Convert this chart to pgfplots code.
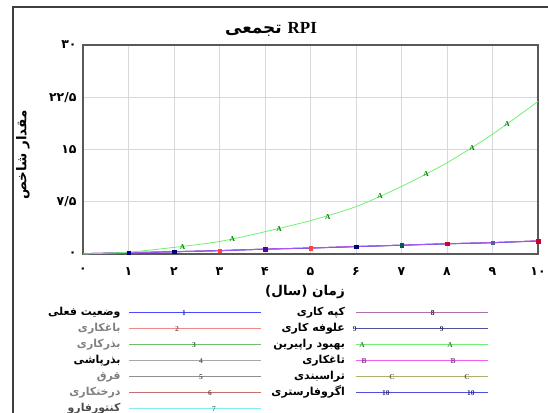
\documentclass[border=0pt]{standalone}
\usepackage{fontspec}
\usepackage{pgfplots}
\pgfplotsset{compat=1.18}
\setmainfont{Liberation Serif}
\newfontfamily\arabicfont[Script=Arabic]{DejaVu Sans}
\newfontfamily\latinfont{Liberation Serif}
\TeXXeTstate=1
\definecolor{c1}{HTML}{4A4AFF}
\definecolor{c2}{HTML}{F08A8A}
\definecolor{c3}{HTML}{6CBF6C}
\definecolor{c4}{HTML}{A8A8A8}
\definecolor{c5}{HTML}{909090}
\definecolor{c6}{HTML}{C87070}
\definecolor{c7}{HTML}{80EEEE}
\definecolor{c8}{HTML}{B070B0}
\definecolor{c9}{HTML}{5050A0}
\definecolor{cA}{HTML}{70F070}
\definecolor{cB}{HTML}{F060F0}
\definecolor{cC}{HTML}{B0B070}
\definecolor{cD}{HTML}{5050E0}
\pgfplotsset{
  legL/.style n args={3}{legend image code/.code={
     \draw[color=#1, line width=0.9bp] (0bp,0bp) -- (132bp,0bp);
     \node[inner sep=0pt, text=#1!55!black, font=\fontsize{7.5}{7.5}\selectfont\bfseries] at (#2,0bp) {#3};}},
  legR/.style n args={4}{legend image code/.code={
     \draw[color=#1, line width=0.9bp] (0bp,0bp) -- (132bp,0bp);
     \node[inner sep=0pt, text=#1!55!black, font=\fontsize{7.5}{7.5}\selectfont\bfseries] at (#2,0bp) {#4};
     \node[inner sep=0pt, text=#1!55!black, font=\fontsize{7.5}{7.5}\selectfont\bfseries] at (#3,0bp) {#4};}},
}
\newcommand{\fa}[1]{\beginR #1\endR}
\begin{document}
\begin{tikzpicture}[x=1bp,y=1bp]
\useasboundingbox (0,0) rectangle (548,412);
\draw[line width=1.5bp, color=black!75] (13,-5) -- (13,405) -- (560,405);
\begin{axis}[
  at={(83bp,158bp)}, anchor=south west, scale only axis,
  width=455bp, height=209bp,
  xmin=0, xmax=10, ymin=0, ymax=30,
  xtick={0,1,2,3,4,5,6,7,8,9,10},
  xticklabels={۰,۱,۲,۳,۴,۵,۶,۷,۸,۹,۱۰},
  ytick={0,7.5,15,22.5,30},
  yticklabels={۰,۷/۵,۱۵,۲۲/۵,۳۰},
  grid=major, major grid style={black!15, line width=0.7bp},
  axis line style={black!65, line width=1.2bp},
  major tick length=0pt,
  ticklabel style={font=\arabicfont\bfseries\fontsize{12.5}{12.5}\selectfont},
  xticklabel style={yshift=-10bp},
  yticklabel style={xshift=-3bp},
  legend columns=2,
  legend plot pos=right,
  legend cell align=right,
  legend style={draw=none, fill=none, at={(-0.088,-0.239)}, anchor=north west,
    font=\arabicfont\bfseries\fontsize{11}{11}\selectfont,
    row sep=3bp,
    nodes={inner sep=2bp, text height=7bp, text depth=2bp},
    /tikz/every odd column/.append style={column sep=6bp},
    /tikz/every even column/.append style={column sep=8bp}},
]
% bottom group of series
\addplot[color=c2, line width=0.9bp, forget plot] coordinates {(0,0.05)(1,0.18)(2,0.33)(3,0.48)(4,0.7)(5,0.86)(6,1.07)(7,1.27)(8,1.47)(9,1.63)(10,1.88)};
\addplot[color=c9, line width=0.9bp, forget plot] coordinates {(0,0.05)(1,0.18)(2,0.33)(3,0.48)(4,0.7)(5,0.86)(6,1.07)(7,1.27)(8,1.47)(9,1.63)(10,1.88)};
\addplot[color=c1, line width=1bp, forget plot] coordinates {(0,0.05)(1,0.18)(2,0.33)(3,0.48)(4,0.7)(5,0.85)(6,1.06)(7,1.26)(8,1.46)(9,1.62)(10,1.87)};
\addplot[color=cB, line width=1bp, opacity=0.55, forget plot] coordinates {(0,0.05)(1,0.18)(2,0.33)(3,0.48)(4,0.72)(5,0.88)(6,1.09)(7,1.29)(8,1.49)(9,1.65)(10,1.9)};
% green series
\addplot[color=cA, line width=0.8bp, smooth, forget plot] coordinates {(0,0)(1,0.27)(2,0.95)(3,1.8)(4,3.2)(5,4.8)(6,6.8)(7,9.7)(8,13.1)(9,17.2)(10,21.9)};
\addplot[only marks, color=green!50!black, mark=text, text mark={A}, text mark as node,
  text mark style={font=\fontsize{7.5}{7.5}\selectfont\bfseries}, forget plot]
  coordinates {(2.19,1.05)(3.28,2.15)(4.31,3.6)(5.38,5.3)(6.53,8.3)(7.54,11.5)(8.55,15.2)(9.32,18.7)};
% markers on bottom line
\addplot[only marks, mark=square*, mark size=1.8bp, color=blue!50!black, forget plot] coordinates {(1,0.18)(2,0.33)(6,1.07)};
\addplot[only marks, mark=square*, mark size=1.8bp, color=red!75!white, forget plot] coordinates {(3,0.48)(5,0.86)};
\addplot[only marks, mark=square*, mark size=1.8bp, color=violet!70!blue, forget plot] coordinates {(4,0.7)};
\addplot[only marks, mark=square*, mark size=1.8bp, color=teal!70!black, forget plot] coordinates {(7,1.27)};
\addplot[only marks, mark=square*, mark size=1.8bp, color=purple!80!red, forget plot] coordinates {(8,1.47)(10,1.88)};
\addplot[only marks, mark=square*, mark size=1.8bp, color=blue!30!gray, forget plot] coordinates {(9,1.63)};
% legend
\addlegendimage{legL={c1}{57bp}{1}}
\addlegendentry{\fa{وضعیت فعلی}}
\addlegendimage{legR={c8}{79bp}{79bp}{8}}
\addlegendentry{\fa{کپه کاری}}
\addlegendimage{legL={c2}{50bp}{2}}
\addlegendentry{{\color{black!50}\fa{باغکاری}}}
\addlegendimage{legR={c9}{1bp}{88bp}{9}}
\addlegendentry{\fa{علوفه کاری}}
\addlegendimage{legL={c3}{67bp}{3}}
\addlegendentry{{\color{black!50}\fa{بذرکاری}}}
\addlegendimage{legR={cA}{9bp}{97bp}{A}}
\addlegendentry{\fa{بهبود راپیرین}}
\addlegendimage{legL={c4}{74bp}{4}}
\addlegendentry{\fa{بذرپاشی}}
\addlegendimage{legR={cB}{11bp}{100bp}{B}}
\addlegendentry{\fa{تاغکاری}}
\addlegendimage{legL={c5}{74bp}{5}}
\addlegendentry{{\color{black!50}\fa{قرق}}}
\addlegendimage{legR={cC}{39bp}{114bp}{C}}
\addlegendentry{\fa{تراسبندی}}
\addlegendimage{legL={c6}{83bp}{6}}
\addlegendentry{{\color{black!50}\fa{درختکاری}}}
\addlegendimage{legR={cD}{34bp}{119bp}{10}}
\addlegendentry{\fa{اگروفارستری}}
\addlegendimage{legL={c7}{87bp}{7}}
\addlegendentry{{\color{black!70}\fa{کنتورفارو}}}
\end{axis}
\node[font=\arabicfont\bfseries\fontsize{17}{17}\selectfont] at (271,383)
  {\beginR{\latinfont\bfseries\beginL RPI\endL} تجمعی\endR};
\node[rotate=90, font=\arabicfont\bfseries\fontsize{13.5}{13.5}\selectfont] at (23,257) {\fa{مقدار شاخص}};
\node[font=\arabicfont\bfseries\fontsize{13.5}{13.5}\selectfont] at (305,120) {\fa{زمان (سال)}};
\end{tikzpicture}
\end{document}
